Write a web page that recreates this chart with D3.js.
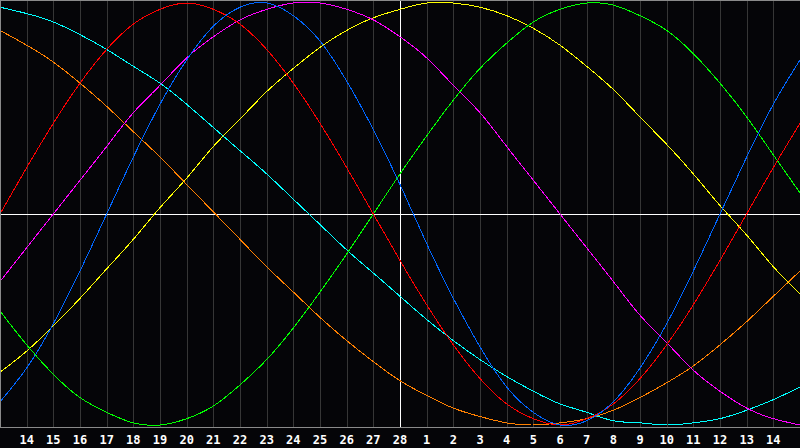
<!DOCTYPE html>
<meta charset="utf-8">
<script src="https://d3js.org/d3.v7.min.js"></script>
<style type="text/css">
    body {
        margin: 0;
        background: #050508;
    }
    .grid line {
        stroke: #363636;
        shape-rendering: crispEdges;
    }
    .curve {
        fill: none;
        stroke-width: 1;
        shape-rendering: crispEdges;
    }
    .daylabel {
        fill: #fff;
        font-family: "DejaVu Sans Mono", monospace;
        font-weight: bold;
        font-size: 12px;
    }
</style>
<body>
<script>
    var width = 800, height = 448, plotBottom = 427;

    // day labels under the grid lines 1..29
    var days = ["14", "15", "16", "17", "18", "19", "20", "21", "22", "23", "24", "25", "26", "27", "28",
        "1", "2", "3", "4", "5", "6", "7", "8", "9", "10", "11", "12", "13", "14"];

    // cycle values (percent) at each day step 0..30
    var physical = [-89, -73, -52, -27, 0, 27, 52, 73, 89, 98, 100, 94, 82, 63, 40, 14,
        -14, -40, -63, -82, -94, -100, -98, -89, -73, -52, -27, 0, 27, 52, 73];
    var emotional = [0, 22, 43, 62, 78, 90, 97, 100, 97, 90, 78, 62, 43, 22, 0, -22,
        -43, -62, -78, -90, -97, -100, -97, -90, -78, -62, -43, -22, 0, 22, 43];
    var intellectual = [-46, -62, -76, -87, -94, -99, -100, -97, -91, -81, -69, -54, -37, -19, 0, 19,
        37, 54, 69, 81, 91, 97, 100, 99, 94, 87, 76, 62, 46, 28, 10];
    var intuitive = [-32, -16, 0, 16, 32, 48, 61, 74, 84, 92, 97, 100, 100, 97, 92, 84,
        74, 61, 48, 32, 16, 0, -16, -32, -48, -61, -74, -84, -92, -97, -100];
    var aesthetic = [-75, -65, -53, -40, -26, -12, 3, 17, 32, 45, 58, 69, 79, 87, 93, 97,
        100, 100, 98, 94, 88, 80, 70, 59, 46, 33, 19, 4, -10, -25, -38];
    var awareness = [87, 80, 72, 62, 51, 39, 27, 14, 1, -12, -25, -37, -49, -60, -70, -79,
        -86, -92, -96, -99, -100, -99, -97, -93, -87, -80, -72, -62, -51, -39, -27];
    var spiritual = [98, 95, 91, 85, 78, 70, 62, 52, 41, 30, 19, 7, -5, -17, -28, -39,
        -50, -60, -69, -77, -84, -90, -94, -98, -99, -100, -99, -97, -93, -88, -82];

    var series = [
        {name: "awareness", values: awareness, color: "#ff8000"},
        {name: "spiritual", values: spiritual, color: "#00ffff"},
        {name: "aesthetic", values: aesthetic, color: "#ffff00"},
        {name: "intuitive", values: intuitive, color: "#ff00ff"},
        {name: "intellectual", values: intellectual, color: "#00ff00"},
        {name: "emotional", values: emotional, color: "#ff0000"},
        {name: "physical", values: physical, color: "#0066ff"}
    ];

    var xScale = d3.scaleLinear().domain([0, 30]).range([0, width]),
        yScale = d3.scaleLinear().domain([-100, 100]).range([425, 3]);

    var svg = d3.select("body")
        .append("svg")
        .attr("width", width)
        .attr("height", height);

    svg.append("rect")
        .attr("width", width)
        .attr("height", height)
        .style("fill", "#050508");

    // vertical day grid
    svg.append("g")
        .attr("class", "grid")
        .selectAll("line")
        .data(days)
        .enter()
        .append("line")
        .attr("x1", function(d, i){ return Math.round(xScale(i + 1)) + 0.5; })
        .attr("x2", function(d, i){ return Math.round(xScale(i + 1)) + 0.5; })
        .attr("y1", 0)
        .attr("y2", plotBottom);

    // today marker and zero line
    svg.append("line")
        .attr("x1", xScale(15) + 0.5).attr("x2", xScale(15) + 0.5)
        .attr("y1", 0).attr("y2", plotBottom)
        .style("stroke", "#fff")
        .style("shape-rendering", "crispEdges");

    svg.append("line")
        .attr("x1", 0).attr("x2", width)
        .attr("y1", yScale(0) + 0.5).attr("y2", yScale(0) + 0.5)
        .style("stroke", "#fff")
        .style("stroke-width", 1.5)
        .style("shape-rendering", "crispEdges");

    // cycle curves
    var line = d3.line()
        .x(function(d, i){ return xScale(i); })
        .y(function(d){ return yScale(d); })
        .curve(d3.curveNatural);

    svg.selectAll(".curve")
        .data(series)
        .enter()
        .append("path")
        .attr("class", "curve")
        .attr("d", function(d){ return line(d.values); })
        .style("stroke", function(d){ return d.color; });

    // frame: top, left and bottom
    svg.append("path")
        .attr("d", "M" + width + ",0.5H0.5V" + (plotBottom + 0.5) + "H" + width)
        .style("fill", "none")
        .style("stroke", "#8a8a8a")
        .style("shape-rendering", "crispEdges");

    // day labels
    svg.selectAll(".daylabel")
        .data(days)
        .enter()
        .append("text")
        .attr("class", "daylabel")
        .attr("x", function(d, i){ return xScale(i + 1); })
        .attr("y", 444)
        .attr("text-anchor", "middle")
        .text(function(d){ return d; });
</script>
</body>
